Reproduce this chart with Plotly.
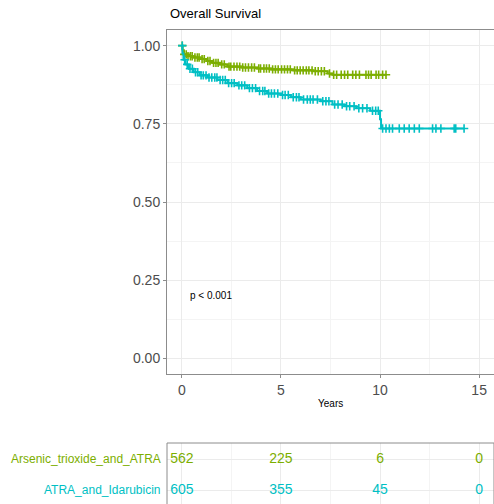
import plotly.graph_objects as go
from plotly.subplots import make_subplots

# ---------------- data ----------------
groups = ["Arsenic_trioxide_and_ATRA", "ATRA_and_Idarubicin"]
colors = ["#7CAE00", "#00BFC4"]

# Kaplan-Meier step points (time in years, survival)
ato_time = [0, 0.04, 0.1, 0.25, 0.6, 0.95, 1.25, 1.55, 1.9, 2.3, 3.0, 3.8, 4.5, 5.6, 6.6, 7.35, 7.6, 10.3]
ato_surv = [1.0, 0.985, 0.972, 0.966, 0.962, 0.957, 0.951, 0.945, 0.94, 0.933, 0.93, 0.927, 0.924, 0.921, 0.918, 0.911, 0.907, 0.907]

ida_time = [0, 0.03, 0.08, 0.18, 0.35, 0.6, 0.9, 1.3, 1.8, 2.3, 2.8, 3.3, 3.8, 4.3, 5.0, 5.5, 6.0, 7.0, 7.6, 8.2, 8.8, 9.5, 10.0, 10.05, 14.24]
ida_surv = [1.0, 0.975, 0.955, 0.94, 0.926, 0.915, 0.905, 0.898, 0.89, 0.88, 0.873, 0.864, 0.855, 0.847, 0.842, 0.835, 0.828, 0.822, 0.812, 0.806, 0.8, 0.792, 0.765, 0.735, 0.735]

# censoring times
ato_censor = [0.02, 0.12, 0.22, 0.31, 0.43, 0.52, 0.66, 0.78, 0.87, 1.02, 1.13, 1.31, 1.42, 1.6, 1.72, 1.83, 2.01, 2.14, 2.38, 2.47, 2.63, 2.78, 2.92, 3.07, 3.21, 3.36, 3.52, 3.66, 3.88, 3.97, 4.14, 4.27, 4.41, 4.58, 4.72, 4.86, 5.03, 5.18, 5.33, 5.47, 5.69, 5.82, 5.97, 6.12, 6.28, 6.41, 6.57, 6.73, 6.88, 7.04, 7.19, 7.45, 7.66, 7.81, 8.04, 8.21, 8.37, 8.62, 8.78, 8.96, 9.29, 9.42, 9.55, 9.8, 9.93, 10.13, 10.3]
ida_censor = [0.02, 0.14, 0.27, 0.41, 0.53, 0.69, 0.8, 0.97, 1.08, 1.22, 1.37, 1.51, 1.66, 1.77, 1.93, 2.06, 2.19, 2.36, 2.51, 2.64, 2.88, 3.02, 3.17, 3.41, 3.56, 3.72, 3.92, 4.08, 4.19, 4.38, 4.52, 4.67, 4.84, 5.08, 5.21, 5.37, 5.62, 5.78, 5.91, 6.14, 6.33, 6.48, 6.62, 6.84, 7.11, 7.27, 7.42, 7.71, 7.88, 8.09, 8.31, 8.47, 8.69, 8.93, 9.12, 9.34, 9.62, 9.78, 9.91, 10.13, 10.3, 10.47, 10.63, 10.97, 11.22, 11.47, 11.73, 11.98, 12.65, 12.82, 13.07, 13.74, 13.82, 14.24]

# numbers at risk
risk_times = [0, 5, 10, 15]
ato_risk = [562, 225, 6, 0]
ida_risk = [605, 355, 45, 0]

x_ticks = [0, 5, 10, 15]
y_ticks = [0, 0.25, 0.5, 0.75, 1.0]
y_ticklabels = ["0.00", "0.25", "0.50", "0.75", "1.00"]


def surv_at(times, survs, t):
    s = survs[0]
    for ti, si in zip(times, survs):
        if ti <= t:
            s = si
    return s


# ---------------- figure ----------------
W, H = 494, 504
ML, MR, MT, MB = 167, 0, 30, 0
PH = H - MT - MB
main_bottom = (H - 374) / PH
table_top = (H - 443) / PH

fig = make_subplots(rows=2, cols=1)
FONT = "Liberation Sans, Arial, Helvetica, sans-serif"

series = [
    (ato_time, ato_surv, ato_censor, colors[0]),
    (ida_time, ida_surv, ida_censor, colors[1]),
]
for times, survs, cens, col in series:
    fig.add_trace(go.Scatter(x=times, y=survs, mode="lines", line=dict(color=col, width=2, shape="hv"),
                             showlegend=False, hoverinfo="skip"), row=1, col=1)
    fig.add_trace(go.Scatter(x=cens, y=[surv_at(times, survs, t) for t in cens], mode="markers",
                             marker=dict(symbol="cross-thin", size=6, line=dict(color=col, width=1.6)),
                             showlegend=False, hoverinfo="skip"), row=1, col=1)

# risk table
for yv, risk, col in [(2, ato_risk, colors[0]), (1, ida_risk, colors[1])]:
    fig.add_trace(go.Scatter(x=risk_times, y=[yv] * len(risk_times), mode="text",
                             text=[str(v) for v in risk], textposition="middle center",
                             textfont=dict(color=col, size=14, family=FONT),
                             showlegend=False, hoverinfo="skip"), row=2, col=1)

grid_major = "#EBEBEB"
grid_minor = "#F4F4F4"
border = "#8C8C8C"

fig.update_xaxes(range=[-0.75, 15.75], tickvals=x_ticks, ticks="outside", ticklen=3, tickcolor=border,
                 tickfont=dict(size=14, color="#4D4D4D", family=FONT), showgrid=True, gridcolor=grid_major,
                 minor=dict(showgrid=True, gridcolor=grid_minor, dtick=2.5, tick0=0),
                 showline=True, mirror=True, linecolor=border, linewidth=1, zeroline=False,
                 domain=[0, 1], row=1, col=1)
fig.update_yaxes(range=[-0.05, 1.05], tickvals=y_ticks, ticktext=y_ticklabels, ticks="outside", ticklen=3,
                 tickcolor=border, tickfont=dict(size=14, color="#4D4D4D", family=FONT),
                 showgrid=True, gridcolor=grid_major,
                 minor=dict(showgrid=True, gridcolor=grid_minor, dtick=0.125, tick0=0),
                 showline=True, mirror=True, linecolor=border, linewidth=1, zeroline=False,
                 domain=[main_bottom, 1], row=1, col=1)

fig.update_xaxes(range=[-0.75, 15.75], tickvals=x_ticks, showticklabels=False, ticks="",
                 showgrid=True, gridcolor=grid_major,
                 minor=dict(showgrid=True, gridcolor=grid_minor, dtick=2.5, tick0=0),
                 showline=False, zeroline=False, domain=[0, 1], row=2, col=1)
fig.update_yaxes(range=[0.55, 2.516], tickvals=[1, 2], showticklabels=False, ticks="",
                 showgrid=True, gridcolor=grid_major, showline=False, zeroline=False,
                 domain=[0, table_top], row=2, col=1)

# table border (top, left, right)
fig.add_shape(type="path", path="M 0 0 L 0 1 L 1 1 L 1 0", xref="x2 domain", yref="y2 domain",
              line=dict(color=border, width=1))

annotations = [
    dict(text="Overall Survival", x=0.003, y=1 + 16 / PH, xref="paper", yref="paper",
         xanchor="left", yanchor="middle", showarrow=False, font=dict(size=13, color="black", family=FONT)),
    dict(text="Years", x=0.5, y=(H - 403) / PH, xref="paper", yref="paper", xanchor="center",
         yanchor="middle", showarrow=False, font=dict(size=10, color="black", family=FONT)),
    dict(text="p < 0.001", x=0.3, y=0.2, xref="x", yref="y", xanchor="left", yanchor="middle",
         showarrow=False, font=dict(size=10, color="black", family=FONT)),
]
for yv, name, col in [(2, groups[0], colors[0]), (1, groups[1], colors[1])]:
    annotations.append(dict(text=name, x=0, y=yv, xref="paper", yref="y2", xanchor="right", yanchor="middle",
                            xshift=-4, showarrow=False, font=dict(size=12, color=col, family=FONT)))

fig.update_layout(width=W, height=H, margin=dict(l=ML, r=MR, t=MT, b=MB), plot_bgcolor="white",
                  paper_bgcolor="white", annotations=annotations, font=dict(family=FONT))

fig.write_html("out.html", config={"displayModeBar": False},
               post_script="document.body.style.margin='0';document.body.style.overflow='hidden';")
